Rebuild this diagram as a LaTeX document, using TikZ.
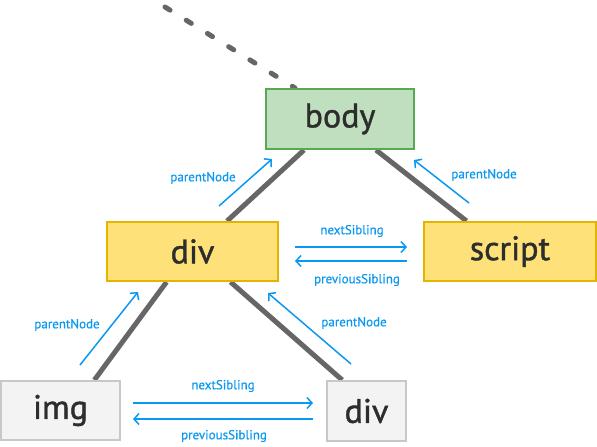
\documentclass[tikz,border=0pt]{standalone}
\usepackage{fontspec}
\setmainfont{PT Sans}
\newfontfamily\boxfont[FakeBold=1.2]{PT Sans}
\newfontfamily\lblfont[FakeBold=0.6]{PT Sans}
\usetikzlibrary{arrows.meta,calc,backgrounds}
\definecolor{bodyfill}{RGB}{191,223,190}
\definecolor{bodyline}{RGB}{88,170,82}
\definecolor{yelfill}{RGB}{255,225,122}
\definecolor{yelline}{RGB}{228,180,0}
\definecolor{grayfill}{RGB}{243,243,243}
\definecolor{grayline}{RGB}{200,200,200}
\definecolor{linkblue}{RGB}{10,152,240}
\definecolor{treeline}{RGB}{102,102,102}
\definecolor{txt}{RGB}{45,45,45}
\tikzset{
  x=1pt, y=-1pt,
  box/.style={draw, line width=2pt, inner sep=0pt, text=txt, font=\boxfont\fontsize{34}{34}\selectfont},
  greenbox/.style={box, fill=bodyfill, draw=bodyline},
  yelbox/.style={box, fill=yelfill, draw=yelline},
  graybox/.style={box, fill=grayfill, draw=grayline},
  edge/.style={draw=treeline, line width=5pt},
  dashedge/.style={draw=treeline, line width=5pt, line cap=round, dash pattern=on 6pt off 19pt},
  link/.style={draw=linkblue, line width=1.5pt, -{Straight Barb[length=5pt,width=11pt,line width=1.5pt]}},
  lbl/.style={text=linkblue, font=\lblfont\fontsize{13}{13}\selectfont, inner sep=0pt}
}
\begin{document}
\begin{tikzpicture}
\useasboundingbox (0,0) rectangle (597,447);
% boxes
\node[greenbox, minimum width=148pt, minimum height=60pt] (body) at (340,119) {body};
\node[yelbox, minimum width=171pt, minimum height=59pt] (div) at (192.5,251.5) {div};
\node[yelbox, minimum width=172pt, minimum height=59pt] (script) at (510,251.5) {script};
\node[graybox, minimum width=119pt, minimum height=59pt] (img) at (60.5,410.5) {img};
\node[graybox, minimum width=79pt, minimum height=60pt] (div2) at (366.5,411) {div};
% tree edges
\coordinate (up) at (165,7);
\begin{pgfonlayer}{background}
\draw[dashedge] (up) -- ($(body.north west)!0.2!(body.north east)$);
\draw[edge] ($(body.south west)!0.26!(body.south east)$) -- ($(div.north west)!0.70!(div.north east)$);
\draw[edge] ($(body.south west)!0.74!(body.south east)$) -- ($(script.north west)!0.25!(script.north east)$);
\draw[edge] ($(div.south west)!0.35!(div.south east)$) -- ($(img.north west)!0.78!(img.north east)$);
\draw[edge] ($(div.south west)!0.72!(div.south east)$) -- ($(div2.north west)!0.2!(div2.north east)$);
\end{pgfonlayer}
% link endpoints
\coordinate (p1s) at (219,206); \coordinate (p1e) at (272,159);
\coordinate (p2s) at (469,203); \coordinate (p2e) at (414,160);
\coordinate (p3s) at (80,365);  \coordinate (p3e) at (138,292);
\coordinate (p4s) at (351,364); \coordinate (p4e) at (268,293);
\coordinate (n1s) at (295,247); \coordinate (n1e) at (407,247);
\coordinate (q1s) at (407,261); \coordinate (q1e) at (295,261);
\coordinate (n2s) at (133,403); \coordinate (n2e) at (313,403);
\coordinate (q2s) at (313,419); \coordinate (q2e) at (133,419);
\draw[link] (p1s) -- (p1e);
\draw[link] (p2s) -- (p2e);
\draw[link] (p3s) -- (p3e);
\draw[link] (p4s) -- (p4e);
\draw[link] (n1s) -- (n1e);
\draw[link] (q1s) -- (q1e);
\draw[link] (n2s) -- (n2e);
\draw[link] (q2s) -- (q2e);
% labels
\node[lbl] (l1) at (203,178) {parentNode};
\node[lbl] (l2) at (484,175) {parentNode};
\node[lbl] (l3) at (67,325) {parentNode};
\node[lbl] (l4) at (354,323) {parentNode};
\node[lbl] (l5) at (352,231) {nextSibling};
\node[lbl] (l6) at (357,280) {previousSibling};
\node[lbl] (l7) at (223,386) {nextSibling};
\node[lbl] (l8) at (224,436) {previousSibling};
\end{tikzpicture}
\end{document}
